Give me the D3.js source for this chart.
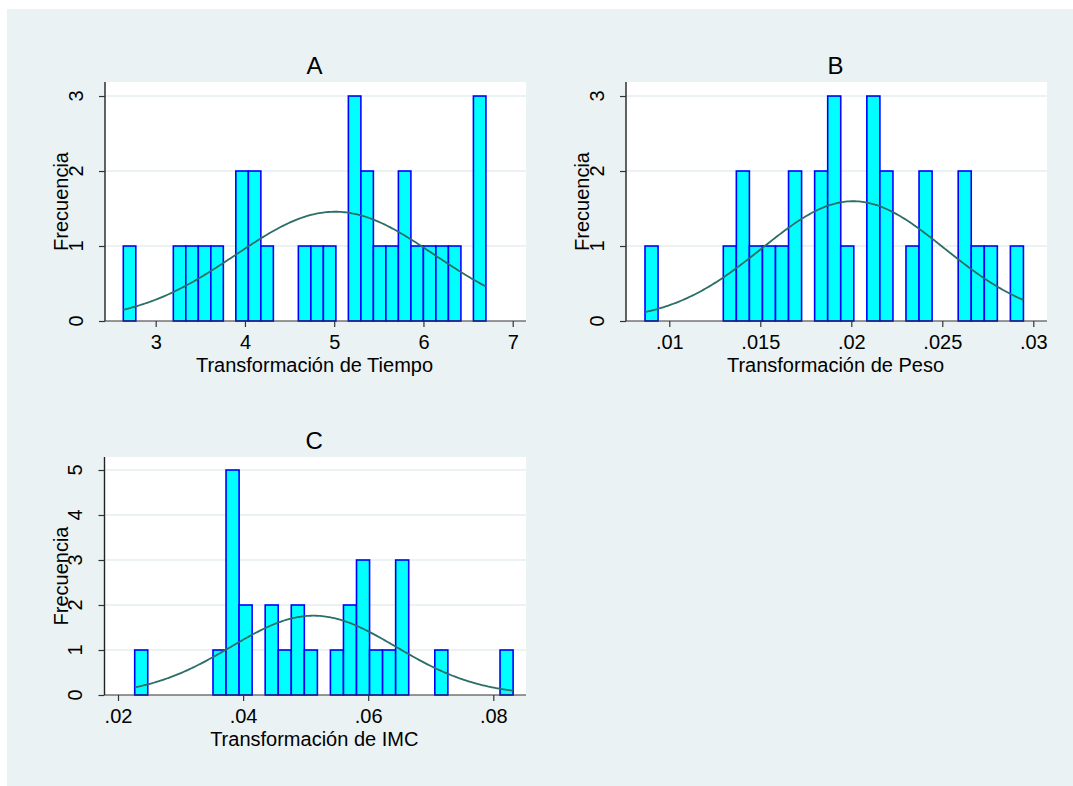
<!DOCTYPE html>
<html>
<head>
<meta charset="utf-8">
<script src="https://cdn.jsdelivr.net/npm/d3@7"></script>
<style>
  html, body { margin: 0; padding: 0; background: #ffffff; }
  svg { display: block; }
  text { font-family: "Liberation Sans", Arial, Helvetica, sans-serif; fill: #000; }
</style>
</head>
<body>
<svg id="chart" width="1073" height="786"></svg>
<script>
// ---------------- DATA ----------------
// Panel A: Transformación de Tiempo (29 bins)
const countsA = [1,0,0,0,1,1,1,1,0,2,2,1,0,0,1,1,1,0,3,2,1,1,2,1,1,1,1,0,3];
const binStartA = 2.637;
const binWidthA = 0.1401;
const meanA = 5.01, sdA = 1.1125;
const xTicksA = [3, 4, 5, 6, 7];
const xTickLabelsA = ["3", "4", "5", "6", "7"];
const yTicksA = [0, 1, 2, 3];

// Panel B: Transformación de Peso (29 bins)
const countsB = [1,0,0,0,0,0,1,2,1,1,1,2,0,2,3,1,0,3,2,0,1,2,0,0,2,1,1,0,1];
const binStartB = 0.008665;
const binWidthB = 0.000717;
const meanB = 0.0201, sdB = 0.005015;
const xTicksB = [0.01, 0.015, 0.02, 0.025, 0.03];
const xTickLabelsB = [".01", ".015", ".02", ".025", ".03"];
const yTicksB = [0, 1, 2, 3];

// Panel C: Transformación de IMC (29 bins)
const countsC = [1,0,0,0,0,0,1,5,2,0,2,1,2,1,0,1,2,3,1,1,3,0,0,1,0,0,0,0,1];
const binStartC = 0.02267;
const binWidthC = 0.002086;
const meanC = 0.05125, sdC = 0.01322;
const xTicksC = [0.02, 0.04, 0.06, 0.08];
const xTickLabelsC = [".02", ".04", ".06", ".08"];
const yTicksC = [0, 1, 2, 3, 4, 5];

const titles = ["A", "B", "C"];
const xTitles = ["Transformación de Tiempo", "Transformación de Peso", "Transformación de IMC"];
const yTitle = "Frecuencia";

// ---------------- LAYOUT ----------------
const svg = d3.select("#chart");
svg.append("rect").attr("x", 7).attr("y", 9).attr("width", 1073 - 7).attr("height", 786 - 9)
  .attr("fill", "#eaf2f3");

const FONT = 20;

const panels = [
  { counts: countsA, start: binStartA, width: binWidthA, mean: meanA, sd: sdA,
    xTicks: xTicksA, xLabels: xTickLabelsA, yTicks: yTicksA,
    xDomain: [2.432, 7.149], yMax: 3.187,
    box: { left: 105, right: 526, top: 82, bottom: 321 }, title: titles[0], xTitle: xTitles[0] },
  { counts: countsB, start: binStartB, width: binWidthB, mean: meanB, sd: sdB,
    xTicks: xTicksB, xLabels: xTickLabelsB, yTicks: yTicksB,
    xDomain: [0.007621, 0.030753], yMax: 3.187,
    box: { left: 626, right: 1047, top: 82, bottom: 321 }, title: titles[1], xTitle: xTitles[1] },
  { counts: countsC, start: binStartC, width: binWidthC, mean: meanC, sd: sdC,
    xTicks: xTicksC, xLabels: xTickLabelsC, yTicks: yTicksC,
    xDomain: [0.017841, 0.085229], yMax: 5.289,
    box: { left: 104.5, right: 526, top: 457, bottom: 695 }, title: titles[2], xTitle: xTitles[2] }
];

panels.forEach(p => {
  const b = p.box;
  const x = d3.scaleLinear().domain(p.xDomain).range([b.left, b.right]);
  const y = d3.scaleLinear().domain([0, p.yMax]).range([b.bottom, b.top]);
  const g = svg.append("g");

  // plot region
  g.append("rect").attr("x", b.left).attr("y", b.top)
    .attr("width", b.right - b.left).attr("height", b.bottom - b.top).attr("fill", "#ffffff");

  // gridlines
  g.selectAll(".grid").data(p.yTicks.filter(t => t > 0)).enter().append("line")
    .attr("x1", b.left).attr("x2", b.right)
    .attr("y1", d => y(d)).attr("y2", d => y(d))
    .attr("stroke", "#e6eef0").attr("stroke-width", 1.6);

  // bars
  const bins = p.counts.map((c, i) => ({ c, x0: p.start + i * p.width, x1: p.start + (i + 1) * p.width }))
    .filter(d => d.c > 0);
  g.selectAll(".bar").data(bins).enter().append("rect")
    .attr("x", d => x(d.x0)).attr("width", d => x(d.x1) - x(d.x0))
    .attr("y", d => y(d.c)).attr("height", d => y(0) - y(d.c))
    .attr("fill", "#00ffff").attr("stroke", "#0000ff").attr("stroke-width", 1.6);

  // normal density overlay (scaled to counts)
  const n = d3.sum(p.counts);
  const xMin = p.start, xMax = p.start + p.counts.length * p.width;
  const pts = d3.range(0, 201).map(k => {
    const xv = xMin + (xMax - xMin) * k / 200;
    const z = (xv - p.mean) / p.sd;
    return [xv, n * p.width * Math.exp(-0.5 * z * z) / (p.sd * Math.sqrt(2 * Math.PI))];
  });
  g.append("path").datum(pts)
    .attr("d", d3.line().x(d => x(d[0])).y(d => y(d[1])).curve(d3.curveBasis))
    .attr("fill", "none").attr("stroke", "#2c6e68").attr("stroke-width", 1.8);

  // x axis
  const xAxis = d3.axisBottom(x).tickValues(p.xTicks)
    .tickFormat((d, i) => p.xLabels[i]).tickSize(6).tickSizeOuter(0).tickPadding(8);
  const xa = g.append("g").attr("transform", `translate(0,${b.bottom})`).call(xAxis);
  xa.select(".domain").attr("stroke", "#333").attr("stroke-width", 1.2)
    .attr("d", `M${b.left},0H${b.right}`);
  xa.selectAll(".tick line").attr("stroke", "#333").attr("stroke-width", 1.2);
  xa.selectAll(".tick text").attr("font-size", FONT).attr("fill", "#000")
    .attr("font-family", "Liberation Sans, Arial, sans-serif");

  // y axis (ticks and line; labels drawn rotated below)
  const yAxis = d3.axisLeft(y).tickValues(p.yTicks).tickFormat("")
    .tickSize(6).tickSizeOuter(0);
  const ya = g.append("g").attr("transform", `translate(${b.left},0)`).call(yAxis);
  ya.select(".domain").attr("stroke", "#222").attr("stroke-width", 1.4)
    .attr("d", `M0,${b.top}V${b.bottom}`);
  ya.selectAll(".tick line").attr("stroke", "#333").attr("stroke-width", 1.2);
  ya.selectAll(".tick text").remove();

  g.selectAll(".ylab").data(p.yTicks).enter().append("text")
    .attr("transform", d => `translate(${b.left - 29.5},${y(d)}) rotate(-90)`)
    .attr("text-anchor", "middle").attr("dy", "0.36em")
    .attr("font-size", FONT).text(d => d3.format("d")(d));

  // titles
  g.append("text").attr("x", (b.left + b.right) / 2 - 1).attr("y", b.top - 8)
    .attr("text-anchor", "middle").attr("font-size", 24).text(p.title);
  g.append("text").attr("x", (b.left + b.right) / 2 - 1).attr("y", b.bottom + 51)
    .attr("text-anchor", "middle").attr("font-size", FONT).text(p.xTitle);
  g.append("text")
    .attr("transform", `translate(${b.left - 44},${(b.top + b.bottom) / 2}) rotate(-90)`)
    .attr("text-anchor", "middle").attr("dy", "0.36em").attr("font-size", FONT).text(yTitle);
});
</script>
</body>
</html>
